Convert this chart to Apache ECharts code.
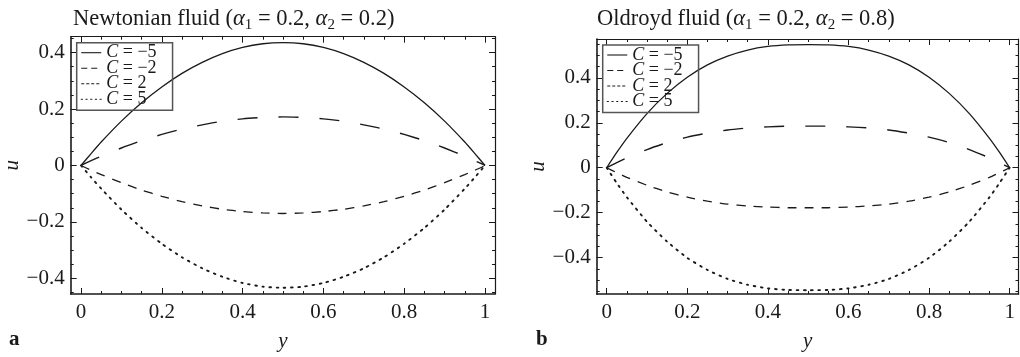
<!DOCTYPE html>
<html>
<head>
<meta charset="utf-8">
<script src="https://cdn.jsdelivr.net/npm/echarts@6/dist/echarts.min.js"></script>
<style>
  html, body { margin: 0; padding: 0; background: #fff; }
  #main { width: 1020px; height: 357px; }
</style>
</head>
<body>
<div id="main"></div>
<script>
var ys = [0, 0.025, 0.05, 0.1, 0.15, 0.2, 0.25, 0.3, 0.35, 0.4, 0.45, 0.5,
          0.55, 0.6, 0.65, 0.7, 0.75, 0.8, 0.85, 0.9, 0.95, 0.975, 1];

var legendNames = ["C = −5", "C = −2", "C = 2", "C = 5"];

// panel a : Newtonian fluid
var newtM5 = [0, 0.042, 0.083, 0.157, 0.222, 0.278, 0.326, 0.365, 0.396, 0.418, 0.431, 0.435,
              0.431, 0.418, 0.396, 0.365, 0.326, 0.278, 0.222, 0.157, 0.083, 0.042, 0];
var newtM2 = [0, 0.017, 0.033, 0.062, 0.088, 0.110, 0.129, 0.144, 0.157, 0.165, 0.170, 0.172,
              0.170, 0.165, 0.157, 0.144, 0.129, 0.110, 0.088, 0.062, 0.033, 0.017, 0];
var newtP2 = [0, -0.017, -0.032, -0.061, -0.087, -0.109, -0.128, -0.143, -0.155, -0.163, -0.168, -0.170,
              -0.168, -0.163, -0.155, -0.143, -0.128, -0.109, -0.087, -0.061, -0.032, -0.017, 0];
var newtP5 = [0, -0.042, -0.082, -0.156, -0.221, -0.277, -0.325, -0.364, -0.394, -0.416, -0.429, -0.433,
              -0.429, -0.416, -0.394, -0.364, -0.325, -0.277, -0.221, -0.156, -0.082, -0.042, 0];

// panel b : Oldroyd fluid
var oldM5 = [0, 0.068, 0.131, 0.241, 0.331, 0.403, 0.458, 0.497, 0.524, 0.540, 0.547, 0.548,
             0.547, 0.540, 0.524, 0.497, 0.458, 0.403, 0.331, 0.241, 0.131, 0.068, 0];
var oldM2 = [0, 0.023, 0.044, 0.081, 0.112, 0.136, 0.154, 0.168, 0.177, 0.182, 0.185, 0.185,
             0.185, 0.182, 0.177, 0.168, 0.154, 0.136, 0.112, 0.081, 0.044, 0.023, 0];
var oldP2 = [0, -0.022, -0.043, -0.078, -0.108, -0.131, -0.149, -0.162, -0.170, -0.175, -0.178, -0.178,
             -0.178, -0.175, -0.170, -0.162, -0.149, -0.131, -0.108, -0.078, -0.043, -0.022, 0];
var oldP5 = [0, -0.068, -0.131, -0.240, -0.329, -0.401, -0.455, -0.495, -0.521, -0.537, -0.544, -0.545,
             -0.544, -0.537, -0.521, -0.495, -0.455, -0.401, -0.329, -0.240, -0.131, -0.068, 0];

// tick labels
var xTicks = [0, 0.2, 0.4, 0.6, 0.8, 1];
var xMinor = [0, 0.05, 0.1, 0.15, 0.2, 0.25, 0.3, 0.35, 0.4, 0.45, 0.5, 0.55, 0.6, 0.65, 0.7, 0.75, 0.8, 0.85, 0.9, 0.95, 1];
var yTicks = [-0.4, -0.2, 0, 0.2, 0.4];
var yMinorA = [-0.45, -0.4, -0.35, -0.3, -0.25, -0.2, -0.15, -0.1, -0.05, 0, 0.05, 0.1, 0.15, 0.2, 0.25, 0.3, 0.35, 0.4, 0.45];
var yMinorB = [-0.55, -0.5, -0.45, -0.4, -0.35, -0.3, -0.25, -0.2, -0.15, -0.1, -0.05, 0, 0.05, 0.1, 0.15, 0.2, 0.25, 0.3, 0.35, 0.4, 0.45, 0.5, 0.55];

var SERIF = "Liberation Serif";
var INK = "#1a1a1a";

var myChart = echarts.init(document.getElementById("main"));

function pairs(vals) {
  return ys.map(function (y, i) { return [y, vals[i]]; });
}

function fmtNum(v) {
  return String(v).replace("-", "−");
}

// 4 x axes + 4 y axes per panel: labelled, minor, and the mirrored top/right ones
function xAxes(g, xmin, xmax) {
  var base = { type: "value", gridIndex: g, min: xmin, max: xmax, splitLine: { show: false } };
  return [
    Object.assign({}, base, {
      position: "bottom",
      name: "y", nameLocation: "middle", nameGap: 37,
      nameTextStyle: { fontFamily: SERIF, fontStyle: "italic", fontSize: 21, color: INK },
      axisLine: { onZero: false, lineStyle: { color: INK, width: 1.6 } },
      axisTick: { inside: true, length: 6, customValues: xTicks, lineStyle: { color: INK } },
      axisLabel: { customValues: xTicks, margin: 8, fontFamily: SERIF, fontSize: 21, color: INK, formatter: fmtNum }
    }),
    Object.assign({}, base, {
      position: "bottom",
      axisLine: { show: false, onZero: false },
      axisTick: { inside: true, length: 3, customValues: xMinor, lineStyle: { color: INK } },
      axisLabel: { show: false }
    }),
    Object.assign({}, base, {
      position: "top",
      axisLine: { onZero: false, lineStyle: { color: INK, width: 1.2 } },
      axisTick: { inside: true, length: 6, customValues: xTicks, lineStyle: { color: INK } },
      axisLabel: { show: false }
    }),
    Object.assign({}, base, {
      position: "top",
      axisLine: { show: false, onZero: false },
      axisTick: { inside: true, length: 3, customValues: xMinor, lineStyle: { color: INK } },
      axisLabel: { show: false }
    })
  ];
}

function yAxes(g, ymin, ymax, minor, gap) {
  var base = { type: "value", gridIndex: g, min: ymin, max: ymax, splitLine: { show: false } };
  return [
    Object.assign({}, base, {
      position: "left",
      name: "u", nameLocation: "middle", nameGap: gap,
      nameTextStyle: { fontFamily: SERIF, fontStyle: "italic", fontSize: 21, color: INK },
      axisLine: { onZero: false, lineStyle: { color: INK, width: 1.6 } },
      axisTick: { inside: true, length: 6, customValues: yTicks, lineStyle: { color: INK } },
      axisLabel: { customValues: yTicks, margin: 6, fontFamily: SERIF, fontSize: 21, color: INK, formatter: fmtNum }
    }),
    Object.assign({}, base, {
      position: "left",
      axisLine: { show: false, onZero: false },
      axisTick: { inside: true, length: 3, customValues: minor, lineStyle: { color: INK } },
      axisLabel: { show: false }
    }),
    Object.assign({}, base, {
      position: "right",
      axisLine: { onZero: false, lineStyle: { color: INK, width: 1.2 } },
      axisTick: { inside: true, length: 6, customValues: yTicks, lineStyle: { color: INK } },
      axisLabel: { show: false }
    }),
    Object.assign({}, base, {
      position: "right",
      axisLine: { show: false, onZero: false },
      axisTick: { inside: true, length: 3, customValues: minor, lineStyle: { color: INK } },
      axisLabel: { show: false }
    })
  ];
}

// line styles for C = -5, -2, 2, 5
var styles = [
  { type: "solid", width: 1.3 },
  { type: [20, 21], width: 1.4 },
  { type: [9, 8], width: 1.3 },
  { type: [1.6, 5.6], width: 1.9, cap: "round" }
];
var legendDash = ["solid", [6, 4], [3, 2], [1.2, 3.5]];

function makeSeries(g, arrs) {
  return arrs.map(function (vals, i) {
    return {
      name: legendNames[i],
      type: "line",
      xAxisIndex: g * 4,
      yAxisIndex: g * 4,
      data: pairs(vals),
      smooth: 0.2,
      symbol: "none",
      silent: true,
      itemStyle: { color: INK },
      lineStyle: Object.assign({ color: INK }, styles[i])
    };
  });
}

function makeLegend(left, top) {
  return {
    left: left, top: top,
    orient: "vertical",
    itemGap: -2.5,
    itemWidth: 20,
    itemHeight: 10,
    padding: [1, 16, 2, 4],
    borderColor: "#555",
    borderWidth: 1.5,
    selectedMode: false,
    data: legendNames.map(function (n, i) {
      return {
        name: n,
        itemStyle: { opacity: 0 },
        lineStyle: { type: legendDash[i], width: 1.1, color: INK }
      };
    }),
    formatter: function (name) {
      return "{i|C}{t|" + name.slice(1) + "}";
    },
    textStyle: {
      lineHeight: 15.5,
      rich: {
        i: { fontFamily: SERIF, fontStyle: "italic", fontSize: 18, color: INK, lineHeight: 15.5 },
        t: { fontFamily: SERIF, fontSize: 18, color: INK, lineHeight: 15.5 }
      }
    }
  };
}

var titleRich = {
  n: { fontFamily: SERIF, fontWeight: "normal", fontSize: 22.5, color: INK, lineHeight: 25 },
  a: { fontFamily: SERIF, fontWeight: "normal", fontStyle: "italic", fontSize: 22.5, color: INK, lineHeight: 25 },
  s: { fontFamily: SERIF, fontWeight: "normal", fontSize: 15, color: INK, lineHeight: 15, padding: [12, 0, 0, 0] }
};

var option = {
  animation: false,
  backgroundColor: "#fff",
  title: [
    {
      left: 68, top: 2,
      text: "{n|Newtonian fluid (}{a|α}{s|1}{n| = 0.2, }{a|α}{s|2}{n| = 0.2)}",
      textStyle: { fontWeight: "normal", rich: titleRich }
    },
    {
      left: 592, top: 2,
      text: "{n|Oldroyd fluid (}{a|α}{s|1}{n| = 0.2, }{a|α}{s|2}{n| = 0.8)}",
      textStyle: { fontWeight: "normal", rich: titleRich }
    }
  ],
  grid: [
    { left: 70.7, top: 36.7, width: 424.3, height: 263.3 },
    { left: 596.7, top: 39, width: 421.8, height: 262.7 }
  ],
  legend: [makeLegend(76.7, 42.7), makeLegend(602.7, 45)],
  xAxis: xAxes(0, -0.0255, 1.0248).concat(xAxes(1, -0.0248, 1.022)),
  yAxis: yAxes(0, -0.455, 0.456, yMinorA, 42).concat(yAxes(1, -0.562, 0.573, yMinorB, 47)),
  series: makeSeries(0, [newtM5, newtM2, newtP2, newtP5])
    .concat(makeSeries(1, [oldM5, oldM2, oldP2, oldP5])),
  graphic: [
    { type: "text", left: 9, top: 329, style: { text: "a", font: "bold 21px " + SERIF, fill: INK } },
    { type: "text", left: 536, top: 329, style: { text: "b", font: "bold 21px " + SERIF, fill: INK } }
  ]
};

myChart.setOption(option);
</script>
</body>
</html>
